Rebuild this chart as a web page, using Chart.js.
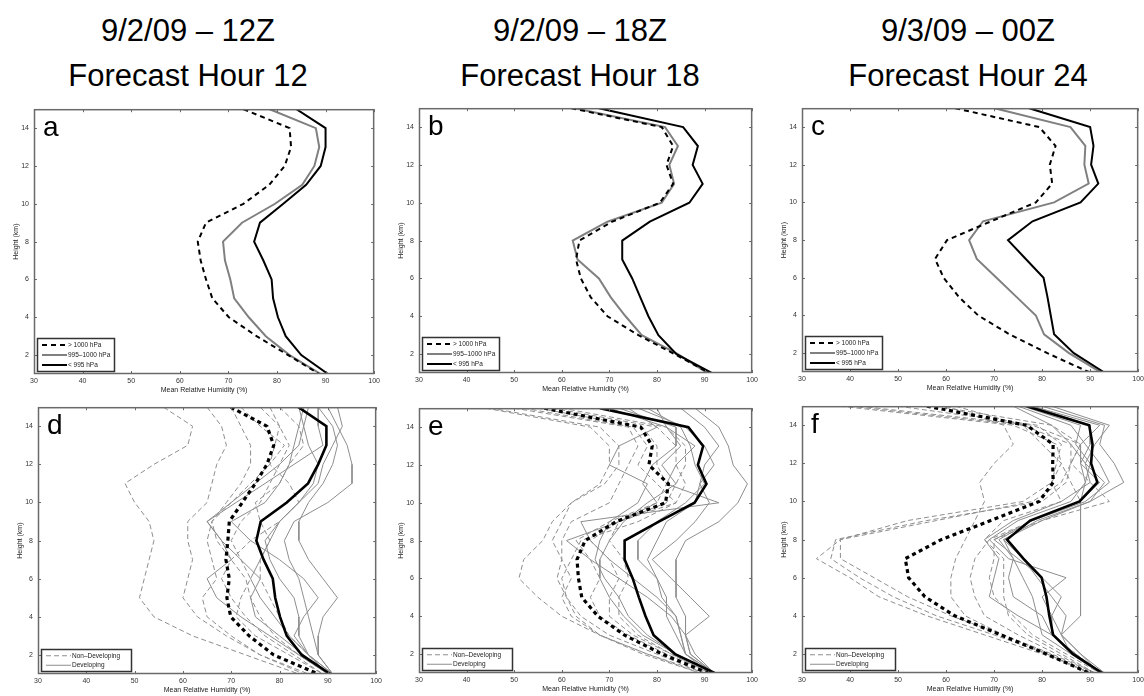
<!DOCTYPE html>
<html>
<head>
<meta charset="utf-8">
<script src="https://cdn.jsdelivr.net/npm/chart.js@4.4.1/dist/chart.umd.min.js"></script>
<style>
body { margin: 0; width: 1144px; height: 696px; overflow: hidden; background: #fff; font-family: "Liberation Sans", Arial, sans-serif; }
.ttl { position: absolute; width: 380px; text-align: center; font-size: 31px; line-height: 45px; color: #000; }
canvas { position: absolute; }
</style>
</head>
<body>
<div class="ttl" style="left:-2px;top:8px">9/2/09 – 12Z<br>Forecast Hour 12</div>
<div class="ttl" style="left:390px;top:8px">9/2/09 – 18Z<br>Forecast Hour 18</div>
<div class="ttl" style="left:778px;top:8px">9/3/09 – 00Z<br>Forecast Hour 24</div>
<script>
// heights (km) for every profile, top to bottom
var heights = [15, 14, 13, 12, 11, 10, 9, 8, 7, 6, 5, 4, 3, 2, 1];
var xTicks = [30, 40, 50, 60, 70, 80, 90, 100];
var yTicks = [2, 4, 6, 8, 10, 12, 14];
var topLabels = ['> 1000 hPa', '995\u20131000 hPa', '< 995 hPa'];
var bottomLabels = ['Non\u2013Developing', 'Developing'];

// row 1: mean RH by central pressure
var aHigh = [73.1, 82.6, 82.9, 81.6, 78.4, 73.1, 65.4, 63.7, 64.3, 65.4, 66.7, 70.1, 75.8, 82.3, 88.7];
var aMid  = [78.5, 88.0, 88.7, 87.7, 85.2, 79.6, 72.8, 68.9, 69.3, 70.4, 71.2, 74.2, 77.7, 82.6, 89.0];
var aLow  = [84.0, 90.0, 90.0, 89.0, 86.0, 81.3, 76.5, 75.3, 77.2, 78.9, 79.2, 80.2, 81.8, 85.0, 90.5];

var bHigh = [62.0, 81.0, 83.4, 82.0, 83.4, 80.6, 70.6, 63.7, 63.0, 64.0, 66.1, 69.6, 76.1, 83.7, 91.0];
var bMid  = [62.7, 81.7, 84.4, 82.6, 83.6, 81.0, 69.6, 62.3, 63.3, 67.8, 70.3, 73.4, 76.8, 84.4, 90.6];
var bLow  = [67.8, 85.5, 88.6, 87.5, 89.6, 86.8, 78.5, 72.7, 72.7, 74.8, 76.5, 78.2, 80.3, 84.1, 91.5];

var cHigh = [61.9, 79.4, 82.8, 81.6, 82.1, 78.7, 69.4, 60.2, 57.7, 59.5, 62.6, 66.7, 73.2, 81.1, 89.7];
var cMid  = [70.1, 85.9, 89.0, 88.8, 89.7, 82.5, 67.7, 64.8, 66.4, 70.5, 74.6, 78.7, 80.4, 85.6, 92.1];
var cLow  = [77.3, 90.0, 90.7, 90.2, 91.7, 88.0, 78.0, 72.9, 76.6, 80.3, 81.1, 81.8, 82.5, 86.6, 92.8];

// row 2: means and individual members
var dNonMean = [69.9, 77.4, 78.8, 77.4, 75.0, 72.3, 69.6, 69.3, 68.9, 69.6, 69.1, 69.9, 73.7, 78.8, 88.0];
var dDevMean = [83.9, 89.7, 89.7, 88.0, 85.9, 81.5, 76.1, 75.2, 76.7, 78.6, 79.1, 80.1, 81.5, 84.6, 90.5];
var dNon = [
  [56, 62, 61, 54, 48, 50, 53, 54, 53, 52, 51, 54, 62, 73, 84],
  [65, 68, 69, 67, 66, 65, 61, 61, 62, 61, 60, 63, 69, 76, 86],
  [70, 72, 74, 74, 72, 69, 66, 65, 66, 67, 64, 65, 70, 76, 85],
  [78, 80, 82, 80, 78, 76, 72, 70, 72, 74, 72, 71, 75, 82, 89],
  [80, 84, 85, 82, 80, 75, 76, 78, 76, 76, 78, 80, 82, 86, 90],
  [76, 80, 79, 78, 82, 84, 80, 74, 70, 68, 70, 73, 77, 83, 89],
  [72, 76, 81, 78, 74, 70, 66, 67, 70, 73, 74, 76, 79, 84, 90]
];
var dDev = [
  [90, 92, 94, 95, 95, 90, 83, 81, 82, 84, 85, 86, 87, 88, 91],
  [88, 91, 92, 91, 89, 86, 84, 84, 86, 89, 92, 89, 88, 88, 91],
  [86, 85, 84, 80, 75, 70, 65, 68, 70, 65, 67, 72, 78, 84, 90],
  [88, 88, 89, 83, 77, 71, 65, 68, 72, 76, 74, 75, 80, 85, 90],
  [84, 85, 86, 88, 87, 84, 80, 78, 76, 74, 76, 79, 82, 86, 91],
  [92, 93, 91, 89, 88, 84, 80, 77, 78, 80, 83, 84, 84, 86, 90],
  [85, 84, 83, 82, 80, 77, 70, 74, 80, 85, 88, 85, 83, 86, 91]
];

var eNonMean = [56.3, 76.6, 79.0, 78.3, 82.4, 81.8, 71.4, 64.9, 63.2, 63.5, 64.2, 67.6, 73.2, 81.1, 90.7];
var eDevMean = [68.0, 86.6, 89.7, 88.6, 90.4, 87.9, 80.4, 73.2, 73.2, 74.9, 76.2, 77.6, 79.3, 83.8, 92.1];
var eNon = [
  [44, 66, 70, 70, 68, 62, 58, 56, 52, 51, 55, 60, 68, 78, 89],
  [45, 68, 72, 72, 69, 62, 60, 58, 60, 59, 61, 63, 68, 77, 89],
  [50, 74, 76, 74, 72, 70, 62, 60, 60, 62, 60, 62, 68, 78, 90],
  [55, 77, 80, 80, 82, 80, 70, 63, 66, 68, 66, 68, 74, 82, 91],
  [58, 80, 84, 84, 86, 84, 72, 66, 70, 72, 70, 70, 75, 83, 91],
  [60, 82, 86, 86, 84, 82, 72, 70, 73, 74, 72, 72, 76, 83, 91],
  [52, 75, 78, 76, 80, 84, 76, 64, 62, 60, 61, 64, 70, 80, 90]
];
var eDev = [
  [88, 93, 95, 96, 99, 97, 93, 86, 84, 84, 84, 86, 86, 88, 92],
  [85, 90, 93, 90, 89, 91, 88, 84, 79, 83, 87, 91, 86, 87, 92],
  [80, 82, 88, 84, 82, 93, 64, 66, 70, 75, 80, 84, 85, 86, 91],
  [72, 84, 84, 79, 77, 80, 72, 61, 66, 72, 78, 83, 86, 87, 92],
  [78, 85, 87, 88, 90, 86, 80, 76, 76, 80, 82, 82, 84, 86, 92],
  [70, 82, 85, 81, 84, 78, 73, 70, 68, 68, 70, 73, 77, 84, 92],
  [76, 86, 90, 92, 89, 88, 82, 80, 78, 80, 81, 84, 85, 86, 92],
  [74, 80, 72, 70, 78, 76, 70, 68, 67, 69, 72, 74, 78, 84, 92]
];

var fNonMean = [56.0, 76.8, 82.3, 82.2, 82.3, 79.4, 69.3, 59.0, 51.5, 52.2, 55.6, 61.8, 71.4, 80.9, 89.8];
var fDevMean = [76.8, 89.8, 90.5, 90.2, 91.5, 87.8, 77.5, 72.7, 76.1, 79.9, 80.9, 81.5, 82.3, 86.4, 92.5];
var fNon = [
  [38, 74, 83, 84, 82, 76, 52, 38, 33, 40, 46, 56, 68, 80, 90],
  [40, 76, 86, 86, 85, 80, 56, 37, 36, 42, 49, 58, 70, 81, 90],
  [42, 78, 88, 86, 84, 78, 58, 38, 38, 45, 52, 61, 72, 82, 91],
  [60, 72, 74, 70, 67, 68, 66, 64, 62, 61, 61, 64, 72, 81, 90],
  [62, 76, 80, 84, 86, 88, 78, 69, 66, 65, 66, 68, 75, 83, 91],
  [58, 82, 88, 86, 90, 94, 80, 70, 70, 69, 70, 74, 78, 85, 92],
  [50, 79, 84, 83, 82, 84, 72, 68, 72, 72, 72, 73, 77, 84, 91]
];
var fDev = [
  [80, 93, 92, 95, 97, 90, 80, 72, 74, 76, 78, 79, 80, 86, 93],
  [78, 92, 88, 88, 89, 88, 88, 88, 88, 88, 88, 88, 84, 86, 92],
  [76, 88, 87, 90, 89, 86, 75, 69, 73, 85, 80, 82, 82, 87, 92],
  [74, 82, 86, 89, 90, 84, 74, 68, 71, 70, 69, 75, 82, 87, 92],
  [78, 90, 90, 88, 92, 88, 78, 70, 75, 80, 84, 82, 84, 88, 92],
  [82, 94, 91, 89, 93, 90, 79, 72, 76, 79, 82, 85, 84, 88, 93],
  [75, 86, 89, 92, 94, 89, 78, 71, 74, 73, 74, 80, 82, 87, 92]
];

function pts(vals) {
  return vals.map(function(v, i) { return { x: v, y: heights[i] }; });
}

var sHigh = { borderColor: '#000', borderWidth: 2, borderDash: [5, 4] };
var sMid = { borderColor: '#808080', borderWidth: 2, borderDash: [] };
var sLow = { borderColor: '#000', borderWidth: 2, borderDash: [] };
var sNonMean = { borderColor: '#000', borderWidth: 3.2, borderDash: [4, 3.5] };
var sDevMean = { borderColor: '#000', borderWidth: 2.6, borderDash: [] };
var sNon = { borderColor: '#8e8e8e', borderWidth: 1, borderDash: [5, 3] };
var sDev = { borderColor: '#8e8e8e', borderWidth: 1, borderDash: [] };

function ds(label, vals, st) {
  return {
    label: label, data: pts(vals), showLine: true, pointRadius: 0,
    borderColor: st.borderColor, borderWidth: st.borderWidth, borderDash: st.borderDash,
    fill: false, tension: 0
  };
}

function topSets(hi, mid, lo) {
  return [ds(topLabels[2], lo, sLow), ds(topLabels[0], hi, sHigh), ds(topLabels[1], mid, sMid)];
}

function bottomSets(nonMean, devMean, non, dev) {
  var out = [ds('dev mean', devMean, sDevMean), ds('non mean', nonMean, sNonMean)];
  non.forEach(function(v) { out.push(ds(bottomLabels[0], v, sNon)); });
  dev.forEach(function(v) { out.push(ds(bottomLabels[1], v, sDev)); });
  return out;
}

var panels = [
  { letter: 'a', box: [34, 104, 345, 270], sets: topSets(aHigh, aMid, aLow), legend: [[topLabels[0], sHigh], [topLabels[1], sMid], [topLabels[2], sLow]] },
  { letter: 'b', box: [419, 103, 338, 270], sets: topSets(bHigh, bMid, bLow), legend: [[topLabels[0], sHigh], [topLabels[1], sMid], [topLabels[2], sLow]] },
  { letter: 'c', box: [802, 103, 341, 269], sets: topSets(cHigh, cMid, cLow), legend: [[topLabels[0], sHigh], [topLabels[1], sMid], [topLabels[2], sLow]] },
  { letter: 'd', box: [38, 402, 343, 272], sets: bottomSets(dNonMean, dDevMean, dNon, dDev), legend: [[bottomLabels[0], sNon], [bottomLabels[1], sDev]] },
  { letter: 'e', box: [419, 403, 338, 270], sets: bottomSets(eNonMean, eDevMean, eNon, eDev), legend: [[bottomLabels[0], sNon], [bottomLabels[1], sDev]] },
  { letter: 'f', box: [802, 401, 341, 272], sets: bottomSets(fNonMean, fDevMean, fNon, fDev), legend: [[bottomLabels[0], sNon], [bottomLabels[1], sDev]] }
];

var FONT = '"Liberation Sans", Arial, sans-serif';

// MATLAB-style box, inward ticks, panel letter and legend
var framePlugin = {
  id: 'frame',
  afterDraw: function(chart, args, opts) {
    var ctx = chart.ctx, a = chart.chartArea;
    var xs = chart.scales.x, ys = chart.scales.y;
    ctx.save();
    ctx.strokeStyle = '#6a6a6a';
    ctx.lineWidth = 1;
    ctx.setLineDash([]);
    ctx.beginPath();
    xs.ticks.forEach(function(t) {
      var x = Math.round(xs.getPixelForValue(t.value)) + 0.5;
      ctx.moveTo(x, a.top); ctx.lineTo(x, a.top + 3);
      ctx.moveTo(x, a.bottom); ctx.lineTo(x, a.bottom - 3);
    });
    ys.ticks.forEach(function(t) {
      var y = Math.round(ys.getPixelForValue(t.value)) + 0.5;
      ctx.moveTo(a.left, y); ctx.lineTo(a.left + 3, y);
      ctx.moveTo(a.right, y); ctx.lineTo(a.right - 3, y);
    });
    ctx.stroke();
    ctx.lineWidth = 1.5;
    ctx.strokeRect(a.left + 0.5, a.top + 0.5, a.right - a.left - 1, a.bottom - a.top - 1);

    ctx.fillStyle = '#000';
    ctx.font = '28px ' + FONT;
    ctx.textBaseline = 'alphabetic';
    ctx.textAlign = 'left';
    ctx.fillText(opts.letter, a.left + 9, a.top + 27);

    // legend box
    var items = opts.legend;
    var rowH = items.length === 3 ? 10 : 9.5;
    var w = items.length === 3 ? 77 : 90;
    var h = rowH * items.length + 3;
    var lx = a.left + 3, ly = a.bottom - 3 - h;
    ctx.fillStyle = '#fff';
    ctx.fillRect(lx, ly, w, h);
    ctx.strokeStyle = '#333';
    ctx.lineWidth = 1.5;
    ctx.strokeRect(lx + 0.5, ly + 0.5, w, h);
    ctx.font = '6.5px ' + FONT;
    ctx.textBaseline = 'middle';
    items.forEach(function(it, i) {
      var y = ly + 2 + rowH * (i + 0.5);
      var st = it[1];
      ctx.strokeStyle = st.borderColor;
      ctx.lineWidth = Math.min(st.borderWidth, 2);
      ctx.setLineDash(st.borderDash);
      ctx.beginPath();
      ctx.moveTo(lx + 5, y); ctx.lineTo(lx + 30, y);
      ctx.stroke();
      ctx.setLineDash([]);
      ctx.fillStyle = '#222';
      ctx.fillText(it[0], lx + 31, y);
    });
    ctx.restore();
  }
};

panels.forEach(function(p) {
  var c = document.createElement('canvas');
  var left = p.box[0] - 34, top = p.box[1] - 4;
  var w = p.box[2] + 38, h = p.box[3] + 30;
  c.width = w; c.height = h;
  c.style.left = left + 'px'; c.style.top = top + 'px';
  c.style.width = w + 'px'; c.style.height = h + 'px';
  document.body.appendChild(c);

  new Chart(c.getContext('2d'), {
    type: 'scatter',
    data: { datasets: p.sets },
    options: {
      responsive: false,
      animation: false,
      layout: { padding: { top: 4, right: 4, left: 0, bottom: 0 } },
      plugins: {
        legend: { display: false },
        tooltip: { enabled: false },
        frame: { letter: p.letter, legend: p.legend }
      },
      scales: {
        x: {
          type: 'linear', min: 30, max: 100,
          grid: { display: false, drawTicks: false },
          border: { display: false },
          afterBuildTicks: function(s) { s.ticks = xTicks.map(function(v) { return { value: v }; }); },
          afterFit: function(s) { s.height = 26; },
          ticks: { font: { size: 7, family: FONT }, color: '#333', padding: 3, maxRotation: 0 },
          title: { display: true, text: 'Mean Relative Humidity (%)', font: { size: 7, family: FONT }, color: '#222', padding: { top: 0, bottom: 6 } }
        },
        y: {
          type: 'linear', min: 1, max: 15,
          grid: { display: false, drawTicks: false },
          border: { display: false },
          afterBuildTicks: function(s) { s.ticks = yTicks.map(function(v) { return { value: v }; }); },
          afterFit: function(s) { s.width = 34; },
          ticks: { font: { size: 7, family: FONT }, color: '#333', padding: 5 },
          title: { display: true, text: 'Height (km)', font: { size: 7, family: FONT }, color: '#222', padding: { top: 12, bottom: 0 } }
        }
      }
    },
    plugins: [framePlugin]
  });
});
</script>
</body>
</html>
